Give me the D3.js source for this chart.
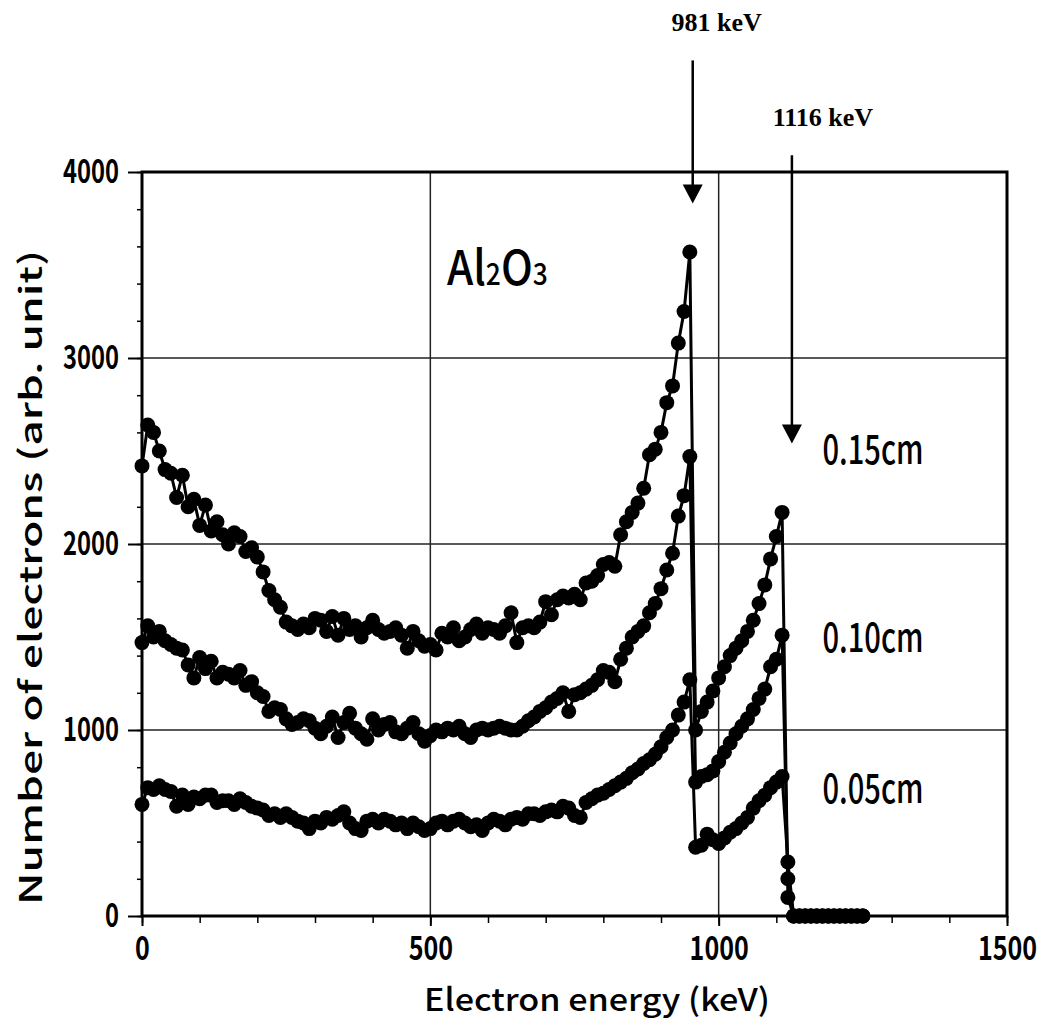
<!DOCTYPE html>
<html>
<head>
<meta charset="utf-8">
<script src="https://cdn.jsdelivr.net/npm/d3@7"></script>
<style>
  body { margin: 0; background: #fff; }
  svg { display: block; }
</style>
</head>
<body>
<svg width="1048" height="1028"></svg>
<script>
// energy grid (keV), one bin every 10 keV from 0 to 1250
const energy = d3.range(0, 1251, 10);

// 0.15 cm
const t015 = [
  2420, 2640, 2600, 2500, 2400, 2380, 2250, 2370, 2200, 2240,
  2100, 2210, 2070, 2120, 2050, 2000, 2060, 2040, 1960, 1980,
  1930, 1850, 1750, 1700, 1660, 1580, 1560, 1540, 1570, 1550,
  1600, 1590, 1530, 1610, 1510, 1600, 1540, 1560, 1500, 1550,
  1590, 1540, 1520, 1530, 1550, 1510, 1440, 1530, 1480, 1450,
  1460, 1430, 1520, 1500, 1550, 1480, 1500, 1540, 1570, 1520,
  1550, 1540, 1520, 1560, 1630, 1470, 1550, 1560, 1550, 1580,
  1690, 1620, 1700, 1720, 1710, 1730, 1700, 1790, 1800, 1830,
  1890, 1900, 1880, 2050, 2120, 2170, 2220, 2300, 2480, 2510,
  2600, 2760, 2850, 3080, 3250, 3570,
  1000, 1100, 1150, 1210, 1280, 1340, 1400, 1440, 1480, 1530,
  1590, 1680, 1780, 1920, 2040, 2170, 100,
  0, 0, 0, 0, 0, 0, 0, 0, 0, 0, 0, 0, 0
];

// 0.10 cm
const t010 = [
  1470, 1560, 1500, 1530, 1480, 1460, 1440, 1430, 1350, 1280,
  1390, 1330, 1370, 1280, 1310, 1300, 1280, 1320, 1240, 1260,
  1200, 1180, 1100, 1120, 1110, 1060, 1030, 1040, 1060, 1050,
  1010, 980, 1020, 1070, 960, 1040, 1090, 1010, 980, 950,
  1060, 1000, 1030, 1040, 990, 980, 1010, 1040, 980, 940,
  970, 1000, 990, 1010, 1000, 1020, 980, 960, 1000, 1010,
  1000, 1010, 1020, 1010, 1000, 1000, 1020, 1050, 1070, 1100,
  1120, 1150, 1170, 1200, 1100, 1190, 1200, 1220, 1240, 1270,
  1320, 1310, 1260, 1380, 1440, 1500, 1530, 1560, 1630, 1680,
  1760, 1860, 1950, 2150, 2260, 2470,
  720, 750, 760, 780, 830, 880, 930, 980, 1020, 1060,
  1110, 1170, 1220, 1340, 1380, 1510, 200,
  0, 0, 0, 0, 0, 0, 0, 0, 0, 0, 0, 0, 0
];

// 0.05 cm
const t005 = [
  600, 690, 680, 700, 680, 670, 590, 650, 600, 640,
  630, 650, 650, 610, 620, 620, 600, 630, 610, 590,
  580, 570, 540, 550, 530, 550, 530, 510, 500, 470,
  510, 500, 530, 520, 540, 560, 500, 470, 460, 510,
  520, 500, 520, 510, 490, 500, 470, 500, 480, 460,
  470, 500, 510, 490, 510, 520, 500, 480, 490, 460,
  500, 520, 510, 490, 520, 530, 520, 550, 550, 540,
  560, 570, 560, 590, 580, 540, 530, 610, 630, 650,
  660, 680, 700, 720, 740, 770, 790, 820, 840, 870,
  910, 960, 1000, 1080, 1150, 1270,
  370, 380, 440, 410, 390, 420, 450, 470, 500, 530,
  580, 620, 650, 690, 720, 750, 290,
  0, 0, 0, 0, 0, 0, 0, 0, 0, 0, 0, 0, 0
];

const seriesNames = ["0.15cm", "0.10cm", "0.05cm"];
const seriesValues = [t015, t010, t005];
// where each label sits (keV, counts)
const labelPos = [[1180, 2430], [1180, 1420], [1180, 610]];

const xTicks = [0, 500, 1000, 1500];
const yTicks = [0, 1000, 2000, 3000, 4000];

// arrows: energy where drawn, label text, tail and tip (counts)
const arrowE = [955, 1127];
const arrowText = ["981 keV", "1116 keV"];
const arrowTail = [4600, 4090];
const arrowTip = [3830, 2540];

const svg = d3.select("svg");
const x = d3.scaleLinear().domain([0, 1500]).range([142, 1007]);
const y = d3.scaleLinear().domain([0, 4000]).range([916, 172]);

const gothic = "'Noto Sans CJK JP', 'Noto Sans', sans-serif";

// grid
svg.append("g")
  .selectAll("line")
  .data([1000, 2000, 3000])
  .join("line")
  .attr("x1", x(0)).attr("x2", x(1500))
  .attr("y1", d => y(d)).attr("y2", d => y(d))
  .attr("stroke", "#222").attr("stroke-width", 1.5);

svg.append("g")
  .selectAll("line")
  .data([500, 1000])
  .join("line")
  .attr("x1", d => x(d)).attr("x2", d => x(d))
  .attr("y1", y(0)).attr("y2", y(4000))
  .attr("stroke", "#222").attr("stroke-width", 1.5);

// minor ticks
svg.append("g")
  .attr("transform", `translate(0,${y(0)})`)
  .call(d3.axisBottom(x).tickValues(d3.range(0, 1501, 100)).tickSize(7).tickFormat(""))
  .call(g => g.select(".domain").remove())
  .call(g => g.selectAll("line").attr("stroke-width", 1.5));

svg.append("g")
  .attr("transform", `translate(${x(0)},0)`)
  .call(d3.axisLeft(y).tickValues(d3.range(0, 4001, 200)).tickSize(5).tickFormat(""))
  .call(g => g.select(".domain").remove())
  .call(g => g.selectAll("line").attr("stroke-width", 1.5));

// major axes
const xAxis = svg.append("g")
  .attr("transform", `translate(0,${y(0)})`)
  .call(d3.axisBottom(x).tickValues(xTicks).tickSize(10).tickPadding(11).tickFormat(d3.format("d")));
xAxis.select(".domain").remove();
xAxis.selectAll("line").attr("stroke-width", 2);
// squeeze the digits horizontally (condensed look)
xAxis.selectAll("text")
  .attr("font-family", gothic)
  .attr("font-size", 33)
  .attr("font-weight", 700)
  .attr("fill", "#000")
  .attr("transform", "scale(0.76,1)");

const yAxis = svg.append("g")
  .attr("transform", `translate(${x(0)},0)`)
  .call(d3.axisLeft(y).tickValues(yTicks).tickSize(14).tickPadding(9).tickFormat(d3.format("d")));
yAxis.select(".domain").remove();
yAxis.selectAll("line").attr("stroke-width", 2);
yAxis.selectAll("text")
  .attr("font-family", gothic)
  .attr("font-size", 33)
  .attr("font-weight", 700)
  .attr("fill", "#000")
  .attr("textLength", d => String(d).length * 14)
  .attr("lengthAdjust", "spacingAndGlyphs");

// frame
svg.append("rect")
  .attr("x", x(0)).attr("y", y(4000))
  .attr("width", x(1500) - x(0)).attr("height", y(0) - y(4000))
  .attr("fill", "none").attr("stroke", "#000").attr("stroke-width", 3);

// series
const line = d3.line().x((d, i) => x(energy[i])).y(d => y(d));

seriesValues.forEach(vals => {
  svg.append("path")
    .datum(vals)
    .attr("d", line)
    .attr("fill", "none")
    .attr("stroke", "#000")
    .attr("stroke-width", 3);
  svg.append("g")
    .selectAll("circle")
    .data(vals)
    .join("circle")
    .attr("cx", (d, i) => x(energy[i]))
    .attr("cy", d => y(d))
    .attr("r", 7.5)
    .attr("fill", "#000");
});

// series labels
svg.append("g")
  .selectAll("text")
  .data(seriesNames)
  .join("text")
  .attr("x", (d, i) => x(labelPos[i][0]))
  .attr("y", (d, i) => y(labelPos[i][1]))
  .attr("font-family", gothic)
  .attr("font-size", 40)
  .attr("font-weight", 500)
  .attr("textLength", 101)
  .attr("lengthAdjust", "spacingAndGlyphs")
  .text(d => d);

// Al2O3, narrowed a bit like the original gothic face
const chem = svg.append("text")
  .attr("transform", "translate(447,285) scale(0.88,1)")
  .attr("font-family", gothic)
  .attr("font-size", 48)
  .attr("font-weight", 500);
chem.append("tspan").text("Al");
chem.append("tspan").attr("font-size", 30).text("2");
chem.append("tspan").text("O");
chem.append("tspan").attr("font-size", 30).text("3");

// arrows
arrowE.forEach((e, i) => {
  const ax = x(e);
  svg.append("line")
    .attr("x1", ax).attr("x2", ax)
    .attr("y1", y(arrowTail[i])).attr("y2", y(arrowTip[i]) - 16)
    .attr("stroke", "#000").attr("stroke-width", 2.5);
  svg.append("path")
    .attr("d", `M${ax - 10},${y(arrowTip[i]) - 19} L${ax + 10},${y(arrowTip[i]) - 19} L${ax},${y(arrowTip[i])} Z`)
    .attr("fill", "#000");
  svg.append("text")
    .attr("x", ax + (i === 0 ? 24 : 31))
    .attr("y", y(arrowTail[i]) - 29)
    .attr("text-anchor", "middle")
    .attr("font-family", "'Liberation Serif', serif")
    .attr("font-size", 26)
    .attr("font-weight", "bold")
    .text(arrowText[i]);
});

// axis titles
svg.append("text")
  .attr("x", 424).attr("y", 1011)
  .attr("font-family", gothic)
  .attr("font-size", 31)
  .attr("font-weight", 500)
  .attr("textLength", 346)
  .attr("lengthAdjust", "spacingAndGlyphs")
  .text("Electron energy (keV)");

svg.append("text")
  .attr("transform", "translate(42,905) rotate(-90)")
  .attr("font-family", gothic)
  .attr("font-size", 31)
  .attr("font-weight", 500)
  .attr("textLength", 655)
  .attr("lengthAdjust", "spacingAndGlyphs")
  .text("Number of electrons (arb. unit)");
</script>
</body>
</html>
